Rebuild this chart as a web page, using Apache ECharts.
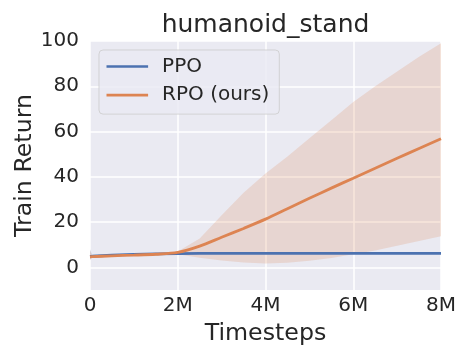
<!DOCTYPE html>
<html><head><meta charset="utf-8">
<script src="https://cdn.jsdelivr.net/npm/echarts@6/dist/echarts.min.js"></script>
<style>html,body{margin:0;padding:0;background:#fff}#c{width:470px;height:360px}</style>
</head><body><div id="c"></div>
<script>
// timesteps in millions
const timesteps = [0, 0.05, 0.5, 1, 1.5, 2, 2.5, 3, 3.5, 4, 4.5, 5, 5.5, 6, 6.5, 7, 7.5, 8];
const ppoMean  = [4.8, 4.9, 5.4, 5.7, 6.0, 6.1, 6.2, 6.2, 6.2, 6.2, 6.2, 6.2, 6.2, 6.2, 6.2, 6.2, 6.2, 6.2];
const ppoLower = [3.4, 4.5, 5.0, 5.4, 5.7, 5.9, 6.0, 6.0, 6.0, 6.0, 6.0, 6.0, 6.0, 6.0, 6.0, 6.0, 6.0, 6.0];
const ppoUpper = [8.0, 5.4, 5.8, 6.1, 6.3, 6.4, 6.4, 6.4, 6.4, 6.4, 6.4, 6.4, 6.4, 6.4, 6.4, 6.4, 6.4, 6.4];
const rpoMean  = [4.6, 4.7, 5.1, 5.4, 5.8, 6.6, 9.4, 13.3, 17.2, 21.3, 25.9, 30.5, 35.0, 39.4, 43.8, 48.2, 52.5, 56.8];
const rpoLower = [3.4, 4.3, 4.8, 5.1, 5.5, 5.8, 4.2, 3.0, 2.2, 1.7, 2.0, 2.9, 4.1, 5.8, 7.5, 9.5, 11.6, 13.7];
const rpoUpper = [7.5, 5.1, 5.4, 5.7, 6.1, 7.0, 12.8, 23.0, 33.0, 41.5, 49.0, 57.0, 65.0, 73.0, 80.0, 86.5, 93.0, 99.0];
const xTicks = [0, 2, 4, 6, 8];
const xTickLabels = ['0', '2M', '4M', '6M', '8M'];
const yTicks = [0, 20, 40, 60, 80, 100];
const seriesNames = ['PPO', 'RPO (ours)'];
const colors = ['#4C72B0', '#DD8452'];

const pairs = (ys) => timesteps.map((t, i) => [t, ys[i]]);
const FONT = 'DejaVu Sans';
const TXT = '#262626';

function band(lo, hi, color, key) {
  return {
    name: key, type: 'custom', data: [[0, 0]], silent: true, z: 1, clip: true,
    renderItem: (params, api) => {
      const top = timesteps.map((t, i) => api.coord([t, hi[i]]));
      const bot = timesteps.map((t, i) => api.coord([t, lo[i]])).reverse();
      return { type: 'polygon', shape: { points: top.concat(bot) },
               style: { fill: color, opacity: 0.2 } };
    }
  };
}

const chart = echarts.init(document.getElementById('c'), null, { renderer: 'canvas' });
chart.setOption({
  animation: false,
  backgroundColor: '#ffffff',
  title: {
    text: 'humanoid_stand', left: 265.5, top: 13, padding: 0, textAlign: 'center',
    textStyle: { fontFamily: FONT, fontSize: 25, fontWeight: 'normal', color: TXT, lineHeight: 25 }
  },
  grid: { left: 90, right: 29, top: 41, bottom: 70, show: true, backgroundColor: '#EAEAF2', borderWidth: 0, outerBoundsMode: 'none' },
  legend: {
    data: seriesNames.map(n => ({ name: n, icon: 'rect' })), orient: 'vertical', left: 99, top: 50,
    padding: [6.5, 10, 9, 7.5], itemGap: 8.6, itemWidth: 41.6, itemHeight: 2.6,
    backgroundColor: 'rgba(234,234,242,0.8)', borderColor: 'rgba(204,204,204,0.8)', borderWidth: 1, borderRadius: 4,
    textStyle: { fontFamily: FONT, fontSize: 20, color: TXT, lineHeight: 20, padding: [0, 0, 0, 9] }
  },
  xAxis: {
    type: 'value', min: 0, max: 8, interval: 2,
    name: 'Timesteps', nameLocation: 'middle', nameGap: 32, nameMoveOverlap: false,
    nameTextStyle: { fontFamily: FONT, fontSize: 23.7, color: TXT },
    axisLine: { show: false }, axisTick: { show: false },
    axisLabel: { fontFamily: FONT, fontSize: 20, color: TXT, margin: 6,
      formatter: v => xTickLabels[xTicks.indexOf(v)] },
    splitLine: { show: true, lineStyle: { color: '#ffffff', width: 1.5 } }
  },
  yAxis: {
    type: 'value', min: -10, max: 100,
    name: 'Train Return', nameLocation: 'middle', nameGap: 53, nameMoveOverlap: false,
    nameTextStyle: { fontFamily: FONT, fontSize: 23.7, color: TXT },
    axisLine: { show: false },
    axisTick: { show: false, customValues: yTicks },
    axisLabel: { fontFamily: FONT, fontSize: 20, color: TXT, margin: 11, customValues: yTicks },
    splitLine: { show: true, lineStyle: { color: '#ffffff', width: 1.5 } }
  },
  series: [
    band(ppoLower, ppoUpper, colors[0], 'ppoBand'),
    band(rpoLower, rpoUpper, colors[1], 'rpoBand'),
    { name: seriesNames[0], type: 'line', data: pairs(ppoMean), symbol: 'none', color: colors[0],
      lineStyle: { color: colors[0], width: 2.8 }, z: 3 },
    { name: seriesNames[1], type: 'line', data: pairs(rpoMean), symbol: 'none', smooth: 0.3, color: colors[1],
      lineStyle: { color: colors[1], width: 2.8 }, z: 4 }
  ]
});
</script></body></html>
